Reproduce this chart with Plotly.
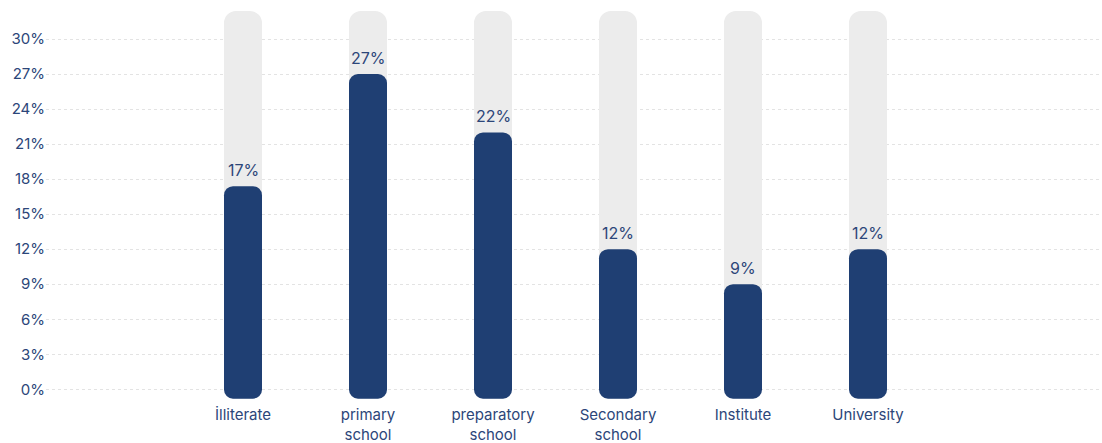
import plotly.graph_objects as go

# Education level shares (percent)
categories = ["İlliterate", "primary<br>school", "preparatory<br>school",
              "Secondary<br>school", "Institute", "University"]
shares = [17.4, 27, 22, 12, 9, 12]
track_max = 32.4          # height of the light background track behind each bar
y_ticks = [0, 3, 6, 9, 12, 15, 18, 21, 24, 27, 30]

NAVY = "#1f3f73"
TEXT = "#2c4679"
TRACK = "#ececec"
BAR_W = 0.304
BASE = -0.8

x = list(range(len(categories)))

fig = go.Figure()
fig.add_trace(go.Bar(
    x=x, y=[track_max - BASE] * len(x), base=BASE, width=BAR_W,
    marker=dict(color=TRACK, cornerradius=12, line=dict(width=0)),
    hoverinfo="skip", showlegend=False,
))
fig.add_trace(go.Bar(
    x=x, y=[v - BASE for v in shares], base=BASE, width=BAR_W,
    customdata=shares, hovertemplate="%{customdata}%<extra></extra>",
    marker=dict(color=NAVY, cornerradius=9, line=dict(width=0)),
    showlegend=False,
))

# value labels just above each bar
for xi, v in zip(x, shares):
    fig.add_annotation(
        x=xi, y=v, text=f"{v:.0f}%", showarrow=False,
        yanchor="bottom", yshift=4,
        font=dict(color=TEXT, size=16),
    )

fig.update_layout(
    width=1102, height=443,
    margin=dict(l=46, r=2, t=0, b=42),
    barmode="overlay",
    plot_bgcolor="white", paper_bgcolor="white",
    font=dict(family="Inter, Open Sans, sans-serif", color=TEXT, size=15),
    xaxis=dict(
        range=[-1.576, 6.856], tickmode="array", tickvals=x, ticktext=categories,
        showgrid=False, zeroline=False, showline=False, ticks="",
        tickfont=dict(size=15, color=TEXT), ticklabelstandoff=3,
        automargin=False,
    ),
    yaxis=dict(
        range=[-1, 33.34], tickmode="array", tickvals=y_ticks,
        ticktext=[f"{t}%" for t in y_ticks],
        showgrid=True, gridcolor="#e3e3e3", griddash="dot", gridwidth=1,
        zeroline=False, showline=False, ticks="",
        tickfont=dict(size=15, color=TEXT), automargin=False,
    ),
)

fig.write_html("out.html")
